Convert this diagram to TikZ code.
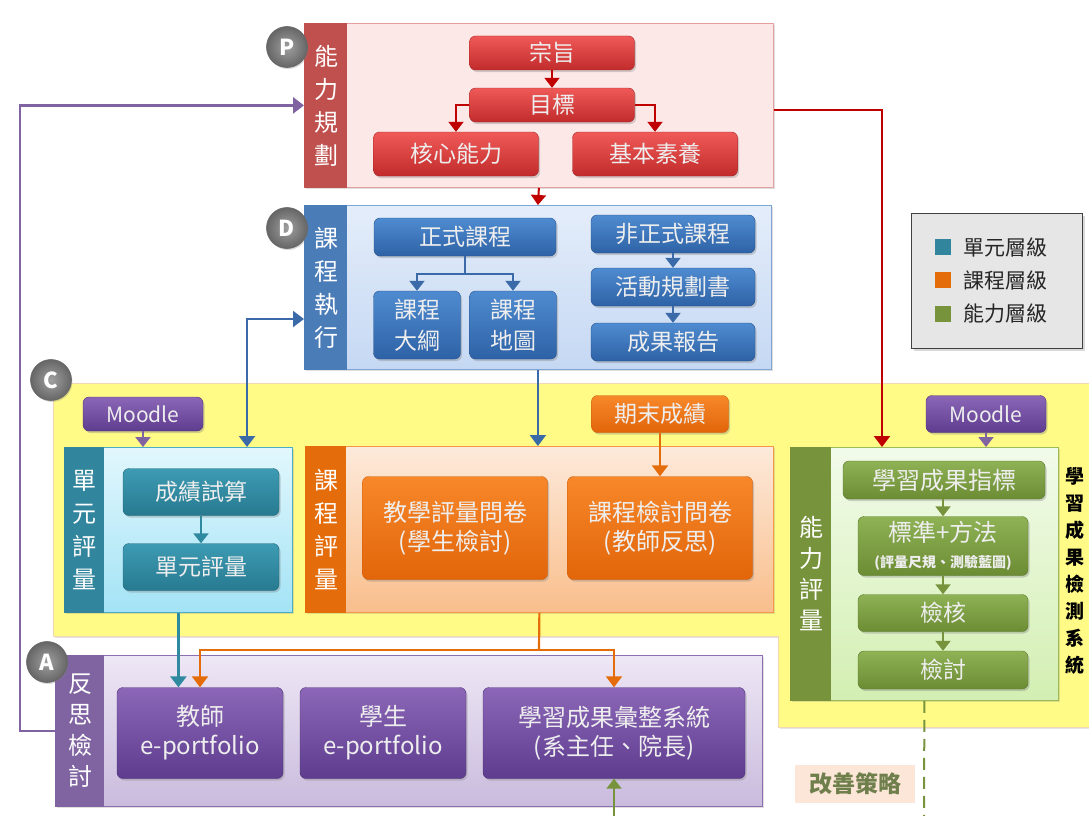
\documentclass[tikz,border=0pt]{standalone}
\usepackage{fontspec}
\setmainfont{Noto Sans CJK TC}
\usetikzlibrary{arrows.meta,shadows,calc}
\definecolor{RedT}{HTML}{EF5A58}\definecolor{RedB}{HTML}{C22B2B}
\definecolor{BlueT}{HTML}{4F8BD0}\definecolor{BlueB}{HTML}{2E62A6}
\definecolor{TealT}{HTML}{3D9BB3}\definecolor{TealB}{HTML}{277A90}
\definecolor{OrT}{HTML}{F7882A}\definecolor{OrB}{HTML}{E2650A}
\definecolor{GrT}{HTML}{8FB255}\definecolor{GrB}{HTML}{6C8C34}
\definecolor{PuT}{HTML}{8C67B8}\definecolor{PuB}{HTML}{5E3C8E}
\definecolor{PFill}{HTML}{FDE8E8}\definecolor{PBorder}{HTML}{E4A0A0}\definecolor{PBar}{HTML}{C0504D}
\definecolor{DT}{HTML}{E4EDFA}\definecolor{DB}{HTML}{C5D8F3}\definecolor{DBorder}{HTML}{7FA4D6}\definecolor{DBar}{HTML}{4A7CB8}
\definecolor{UT}{HTML}{E2F7FD}\definecolor{UB}{HTML}{A3E3F5}\definecolor{UBorder}{HTML}{4BACC6}\definecolor{UBar}{HTML}{31859C}
\definecolor{KT}{HTML}{FDEADB}\definecolor{KB}{HTML}{F9BE8C}\definecolor{KBorder}{HTML}{F79646}\definecolor{KBar}{HTML}{E46C0A}
\definecolor{NT}{HTML}{F2FBEA}\definecolor{NB}{HTML}{D3EFB2}\definecolor{NBorder}{HTML}{9BBB59}\definecolor{NBar}{HTML}{77933C}
\definecolor{AT}{HTML}{EEE7F5}\definecolor{AB}{HTML}{C9BBDD}\definecolor{ABorder}{HTML}{8C6FB0}\definecolor{ABar}{HTML}{8064A2}
\definecolor{Yel}{HTML}{FFFB86}\definecolor{YelBorder}{HTML}{F3D7B5}
\definecolor{LRed}{HTML}{C00000}\definecolor{LBlue}{HTML}{3A6AA8}\definecolor{LPur}{HTML}{8064A2}
\definecolor{LTeal}{HTML}{2F8AA0}\definecolor{LOr}{HTML}{E46C0A}\definecolor{LGr}{HTML}{77933C}
\definecolor{BoxText}{HTML}{EEEEEE}\definecolor{LegFill}{HTML}{E6E6E6}\definecolor{LegBorder}{HTML}{404040}
\definecolor{GsFill}{HTML}{FCE6D8}\definecolor{GsText}{HTML}{6F7F4C}
\definecolor{BadgeIn}{HTML}{A0A0A0}\definecolor{BadgeOut}{HTML}{666666}
\begin{document}
\begin{tikzpicture}[x=1pt,y=-1pt,
  cbox/.style={rounded corners=6pt, inner sep=0pt, text=BoxText, align=center,
    font=\fontsize{23}{29}\selectfont,
    drop shadow={shadow xshift=1.5pt,shadow yshift=-2pt,opacity=.35}},
  redbox/.style={cbox, top color=RedT, bottom color=RedB, draw=RedB!85!black},
  bluebox/.style={cbox, top color=BlueT, bottom color=BlueB, draw=BlueB!85!black},
  tealbox/.style={cbox, top color=TealT, bottom color=TealB, draw=TealB!85!black},
  orbox/.style={cbox, top color=OrT, bottom color=OrB, draw=OrB!90!black},
  grbox/.style={cbox, top color=GrT, bottom color=GrB, draw=GrB!85!black},
  pubox/.style={cbox, top color=PuT, bottom color=PuB, draw=PuB!85!black},
  panel/.style={anchor=north west, inner sep=0pt, rectangle, line width=0.8pt,
    drop shadow={shadow xshift=2pt,shadow yshift=-2pt,opacity=.25}},
  vtitle/.style={text=white, align=center, inner sep=0pt, font=\fontsize{24}{33}\selectfont},
  badge/.style={circle, inner color=BadgeIn, outer color=BadgeOut, draw=BadgeOut, line width=0.6pt,
    minimum size=41pt, inner sep=0pt, text=white,
    font=\fontsize{22}{22}\selectfont\bfseries,
    drop shadow={shadow xshift=1pt,shadow yshift=-1.5pt,opacity=.3}},
  arr/.style={line width=2.2pt, -{Triangle[width=16pt,length=11pt]}},
  sarr/.style={line width=2pt, -{Triangle[width=15pt,length=10pt]}},
  sq/.style={minimum size=16pt, inner sep=0pt},
  legtext/.style={anchor=west, text=black!85, font=\fontsize{21}{21}\selectfont, inner sep=0pt}
]
\useasboundingbox (0,0) rectangle (1089,816);

% yellow region (C)
\path[fill=Yel, draw=YelBorder, line width=0.8pt,
  drop shadow={shadow xshift=2pt,shadow yshift=-2pt,opacity=.2}]
  (53,383) -- (1089,383) -- (1089,727) -- (778,727) -- (778,636) -- (53,636) -- cycle;

% ---------- P panel ----------
\node[panel, draw=PBorder, fill=PFill, minimum width=469pt, minimum height=164pt] (P) at (304,23) {};
\fill[PBar] (P.north west) rectangle ($(P.south west)+(43,0)$);
\node[vtitle] (Pt) at ($(P.west)+(22,0)$) {能\\力\\規\\劃};
\node[badge] (cP) at (287,47) {P};
\node[redbox, minimum width=165pt, minimum height=34pt] (zz) at (552,53) {宗旨};
\node[redbox, minimum width=165pt, minimum height=34pt] (mb) at (552,105) {目標};
\node[redbox, minimum width=165pt, minimum height=44pt] (hx) at (456,154) {核心能力};
\node[redbox, minimum width=165pt, minimum height=44pt] (jb) at (655,154) {基本素養};

% ---------- D panel ----------
\node[panel, draw=DBorder, top color=DT, bottom color=DB, minimum width=467pt, minimum height=164pt] (D) at (304,205) {};
\fill[DBar] (D.north west) rectangle ($(D.south west)+(43,0)$);
\node[vtitle] (Dt) at ($(D.west)+(22,0)$) {課\\程\\執\\行};
\node[badge] (cD) at (287,228) {D};
\node[bluebox, minimum width=182pt, minimum height=38pt] (zs) at (465,237) {正式課程};
\node[bluebox, minimum width=87pt, minimum height=68pt, font=\fontsize{23}{31}\selectfont] (dg) at (417,325) {課程\\大綱};
\node[bluebox, minimum width=87pt, minimum height=68pt, font=\fontsize{23}{31}\selectfont] (dt) at (513,325) {課程\\地圖};
\node[bluebox, minimum width=164pt, minimum height=38pt] (fz) at (673,234) {非正式課程};
\node[bluebox, minimum width=164pt, minimum height=38pt] (hd) at (673,287) {活動規劃書};
\node[bluebox, minimum width=164pt, minimum height=38pt] (cg) at (673,342) {成果報告};

% ---------- legend ----------
\node[anchor=north west, draw=LegBorder, fill=LegFill, line width=1pt, minimum width=171pt, minimum height=135pt, inner sep=0pt,
  drop shadow={shadow xshift=2pt,shadow yshift=-2pt,opacity=.3}] (leg) at (911,213) {};
\node[sq, fill=UBar] (l1) at (943,247) {};
\node[legtext] (l1t) at (963,247) {單元層級};
\node[sq, fill=KBar] (l2) at (943,280) {};
\node[legtext] (l2t) at (963,280) {課程層級};
\node[sq, fill=NBar] (l3) at (943,314) {};
\node[legtext] (l3t) at (963,314) {能力層級};

% ---------- C region ----------
\node[badge] (cC) at (51,380) {C};

% unit panel
\node[panel, draw=UBorder, top color=UT, bottom color=UB, minimum width=228pt, minimum height=165pt] (U) at (64,447) {};
\fill[UBar] (U.north west) rectangle ($(U.south west)+(40,0)$);
\node[vtitle] (Ut) at ($(U.west)+(20,0)$) {單\\元\\評\\量};
\node[pubox, minimum width=120pt, minimum height=34pt, font=\fontsize{21}{21}\selectfont] (m1) at (143,414) {Moodle};
\node[tealbox, minimum width=156pt, minimum height=47pt] (cj) at (201,492) {成績試算};
\node[tealbox, minimum width=156pt, minimum height=47pt] (dy) at (201,567) {單元評量};

% course panel
\node[panel, draw=KBorder, top color=KT, bottom color=KB, minimum width=468pt, minimum height=166pt] (K) at (305,446) {};
\fill[KBar] (K.north west) rectangle ($(K.south west)+(41,0)$);
\node[vtitle] (Kt) at ($(K.west)+(21,0)$) {課\\程\\評\\量};
\node[orbox, minimum width=137pt, minimum height=37pt] (qm) at (660,414) {期末成績};
\node[orbox, minimum width=185pt, minimum height=103pt, font=\fontsize{24}{29}\selectfont] (jx) at (455,528) {教學評量問卷\\(學生檢討)};
\node[orbox, minimum width=185pt, minimum height=103pt, font=\fontsize{24}{29}\selectfont] (kj) at (660,528) {課程檢討問卷\\(教師反思)};

% competence panel
\node[panel, draw=NBorder, top color=NT, bottom color=NB, minimum width=268pt, minimum height=253pt] (N) at (790,447) {};
\fill[NBar] (N.north west) rectangle ($(N.south west)+(41,0)$);
\node[vtitle, font=\fontsize{24}{31}\selectfont] (Nt) at ($(N.west)+(21,0)$) {能\\力\\評\\量};
\node[pubox, minimum width=120pt, minimum height=37pt, font=\fontsize{21}{21}\selectfont] (m2) at (986,414) {Moodle};
\node[grbox, minimum width=202pt, minimum height=38pt, font=\fontsize{24}{29}\selectfont] (zb) at (944,480) {學習成果指標};
\node[grbox, minimum width=170pt, minimum height=59pt, font=\fontsize{24}{26}\selectfont] (bz) at (943,546) {標準+方法\\{\fontsize{14}{16}\selectfont\bfseries (評量尺規、測驗藍圖)}};
\node[grbox, minimum width=170pt, minimum height=37pt] (jh) at (943,613) {檢核};
\node[grbox, minimum width=170pt, minimum height=38pt] (jt) at (943,670) {檢討};
\node[align=center, inner sep=0pt, text=black, font=\fontsize{19}{27}\selectfont\bfseries] (xt) at (1075,571) {學\\習\\成\\果\\檢\\測\\系\\統};

% ---------- A panel ----------
\node[panel, draw=ABorder, top color=AT, bottom color=AB, minimum width=707pt, minimum height=151pt] (A) at (55,655) {};
\fill[ABar] (A.north west) rectangle ($(A.south west)+(49,0)$);
\node[vtitle, font=\fontsize{24}{31}\selectfont] (At) at ($(A.west)+(25,0)$) {反\\思\\檢\\討};
\node[badge] (cA) at (47,662) {A};
\node[pubox, minimum width=166pt, minimum height=91pt, font=\fontsize{24}{29}\selectfont] (tep) at (200,733) {教師\\e-portfolio};
\node[pubox, minimum width=166pt, minimum height=91pt, font=\fontsize{24}{29}\selectfont] (sep) at (383,733) {學生\\e-portfolio};
\node[pubox, minimum width=262pt, minimum height=91pt, font=\fontsize{24}{29}\selectfont] (hz) at (614,733) {學習成果彙整系統\\(系主任、院長)};

% 改善策略
\node[fill=GsFill, minimum width=120pt, minimum height=38pt, inner sep=0pt, text=GsText,
  font=\fontsize{23}{23}\selectfont\bfseries] (gs) at (855,784) {改善策略};

% ---------- coordinates ----------
\coordinate (redturn) at (882,110);
\coordinate (fbx) at (20,0);
\coordinate (dbl) at (247,319);
\coordinate (zsj) at (465,274);
\coordinate (kjn) at (539,650);
\coordinate (gdend) at (924,816);
\coordinate (gstart) at (614,816);

% ---------- connectors ----------
\draw[sarr, LRed] (zz) -- (mb);
\draw[sarr, LRed] (mb.west) -| (hx.north);
\draw[sarr, LRed] (mb.east) -| (jb.north);
\draw[sarr, LRed] (P.south) -- (D.north);
\draw[arr, LRed] (P.east |- redturn) -- (redturn) -- (redturn |- N.north);
\draw[arr, LPur, line width=2.8pt] (A.west) -- (A.west -| fbx) |- (P.west);

\draw[line width=2pt, LBlue] (zs.south) -- (zsj);
\draw[sarr, LBlue] (zsj) -| (dg.north);
\draw[sarr, LBlue] (zsj) -| (dt.north);
\draw[sarr, LBlue] (fz) -- (hd);
\draw[sarr, LBlue] (hd) -- (cg);
\draw[line width=2.2pt, LBlue, {Triangle[width=16pt,length=11pt]}-{Triangle[width=16pt,length=11pt]}]
  (dbl |- U.north) -- (dbl) -- (D.west |- dbl);
\draw[arr, LBlue] (D.south) -- (D.south |- K.north);

\draw[sarr, LPur] (m1.south) -- (m1.south |- U.north);
\draw[sarr, LTeal, line width=2.5pt] (cj) -- (dy);
\draw[arr, LOr] (qm.south) -- (kj.north);
\draw[sarr, LPur] (m2.south) -- (m2.south |- N.north);
\draw[sarr, LGr] (zb.south -| bz.north) -- (bz.north);
\draw[sarr, LGr] (bz) -- (jh);
\draw[sarr, LGr] (jh) -- (jt);

\draw[arr, LTeal, line width=2.8pt] (U.south) -- (U.south |- tep.north);
\draw[line width=2.2pt, LOr] (K.south) -- (kjn);
\draw[arr, LOr] (kjn) -| (tep.north);
\draw[arr, LOr] (kjn) -| (hz.north);
\draw[line width=2pt, LGr, dash pattern=on 12pt off 7pt] (N.south) -- (gdend);
\draw[sarr, LGr] (gstart) -- (hz.south);
\end{tikzpicture}
\end{document}
